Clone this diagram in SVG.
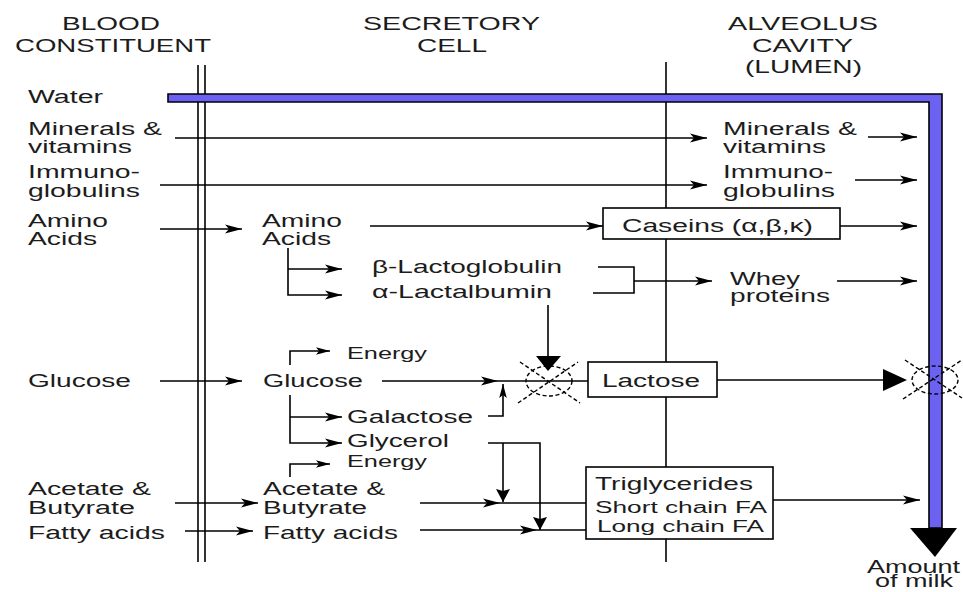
<svg xmlns="http://www.w3.org/2000/svg" width="963" height="592" viewBox="0 0 963 592">
<defs>
<marker id="a" markerUnits="userSpaceOnUse" markerWidth="18" markerHeight="11" refX="17" refY="5.5" orient="auto"><path d="M0,1 L17,5.5 L0,10 L4,5.5 z" fill="#000"/></marker>
<marker id="s" markerUnits="userSpaceOnUse" markerWidth="15" markerHeight="10" refX="14" refY="5" orient="auto"><path d="M0,1.2 L14,5 L0,8.8 L3,5 z" fill="#000"/></marker>
<marker id="b" markerUnits="userSpaceOnUse" markerWidth="14" markerHeight="16" refX="13" refY="8" orient="auto"><path d="M0,1 L13,8 L0,15 L2,8 z" fill="#000"/></marker>
</defs>
<style>
text{font-family:"Liberation Sans",Arial,sans-serif;font-size:18px;fill:#1c1c1c}
.sm{font-size:16px}
.ln{fill:none;stroke:#000;stroke-width:1.6}
.bx{fill:#fff;stroke:#000;stroke-width:1.6}
.dash{fill:none;stroke:#000;stroke-width:1.4;stroke-dasharray:4 2.5}
</style>
<g id="connectors">
<line class="ln" x1="198" y1="65" x2="198" y2="562"/>
<line class="ln" x1="205" y1="65" x2="205" y2="562"/>
<line class="ln" x1="666" y1="62" x2="666" y2="562"/>
<polygon points="168,94 942,94 942,528 929,528 929,102 168,102" fill="#6b62f2" stroke="#000" stroke-width="1.6"/>
<polygon points="910,528 957,528 935,557" fill="#000"/>
<path class="ln" d="M175,138 H707" marker-end="url(#a)"/>
<path class="ln" d="M868,137 H917" marker-end="url(#a)"/>
<path class="ln" d="M160,185 H707" marker-end="url(#a)"/>
<path class="ln" d="M855,180 H917" marker-end="url(#a)"/>
<path class="ln" d="M160,229 H242" marker-end="url(#a)"/>
<path class="ln" d="M370,226 H603" marker-end="url(#a)"/>
<path class="ln" d="M840,226 H917" marker-end="url(#a)"/>
<path class="ln" d="M288,248 V295 H342" marker-end="url(#a)"/>
<path class="ln" d="M288,269 H342" marker-end="url(#a)"/>
<path class="ln" d="M598,267 H634 V293 H593"/>
<path class="ln" d="M634,281 H712" marker-end="url(#a)"/>
<path class="ln" d="M837,281 H917" marker-end="url(#a)"/>
<path class="ln" d="M548,305 V358"/>
<polygon points="536,356 561,356 548,371" fill="#000"/>
<path class="ln" d="M160,381 H242" marker-end="url(#a)"/>
<path class="ln" d="M382,381 H498" marker-end="url(#a)"/>
<path class="ln" d="M498,381 H588"/>
<path class="ln" d="M488,416 H503 V384" marker-end="url(#s)"/>
<path class="ln" d="M290,365 V351 H330" marker-end="url(#s)"/>
<path class="ln" d="M290,395 V443 H342" marker-end="url(#a)"/>
<path class="ln" d="M290,417 H342" marker-end="url(#a)"/>
<path class="ln" d="M290,477 V464 H330" marker-end="url(#s)"/>
<path class="ln" d="M175,503 H258" marker-end="url(#a)"/>
<path class="ln" d="M420,503 H500" marker-end="url(#a)"/>
<path class="ln" d="M500,503 H586"/>
<path class="ln" d="M185,531 H253" marker-end="url(#a)"/>
<path class="ln" d="M420,530 H537" marker-end="url(#a)"/>
<path class="ln" d="M537,530 H586"/>
<path class="ln" d="M488,443 H540 V530" marker-end="url(#b)"/>
<path class="ln" d="M503,443 V502" marker-end="url(#b)"/>
<path class="ln" d="M717,380 H884"/>
<polygon points="883,369 907,380 883,391" fill="#000"/>
<path class="ln" d="M773,500 H920" marker-end="url(#a)"/>
</g>
<g id="enzyme1">
<ellipse class="dash" cx="549" cy="381" rx="23" ry="15"/>
<line class="dash" x1="520" y1="362" x2="580" y2="403"/>
<line class="dash" x1="518" y1="403" x2="578" y2="362"/>
</g>
<g id="enzyme2">
<ellipse class="dash" cx="935" cy="380" rx="23" ry="14"/>
<line class="dash" x1="905" y1="360" x2="962" y2="398"/>
<line class="dash" x1="903" y1="399" x2="962" y2="360"/>
</g>
<g id="headers">
<text x="62" y="30" textLength="98" lengthAdjust="spacingAndGlyphs">BLOOD</text>
<text x="15" y="52" textLength="196" lengthAdjust="spacingAndGlyphs">CONSTITUENT</text>
<text x="363" y="30" textLength="177" lengthAdjust="spacingAndGlyphs">SECRETORY</text>
<text x="417" y="52" textLength="70" lengthAdjust="spacingAndGlyphs">CELL</text>
<text x="728" y="30" textLength="150" lengthAdjust="spacingAndGlyphs">ALVEOLUS</text>
<text x="752" y="52" textLength="101" lengthAdjust="spacingAndGlyphs">CAVITY</text>
<text x="745" y="73" textLength="117" lengthAdjust="spacingAndGlyphs">(LUMEN)</text>
</g>
<g id="blood">
<text x="28" y="103" textLength="75" lengthAdjust="spacingAndGlyphs">Water</text>
<text x="28" y="135" textLength="134" lengthAdjust="spacingAndGlyphs">Minerals &amp;</text>
<text x="28" y="153" textLength="104" lengthAdjust="spacingAndGlyphs">vitamins</text>
<text x="28" y="178" textLength="112" lengthAdjust="spacingAndGlyphs">Immuno-</text>
<text x="28" y="197" textLength="112" lengthAdjust="spacingAndGlyphs">globulins</text>
<text x="28" y="227" textLength="80" lengthAdjust="spacingAndGlyphs">Amino</text>
<text x="28" y="245" textLength="69" lengthAdjust="spacingAndGlyphs">Acids</text>
<text x="28" y="387" textLength="103" lengthAdjust="spacingAndGlyphs">Glucose</text>
<text x="28" y="495" textLength="123" lengthAdjust="spacingAndGlyphs">Acetate &amp;</text>
<text x="28" y="514" textLength="107" lengthAdjust="spacingAndGlyphs">Butyrate</text>
<text x="28" y="539" textLength="137" lengthAdjust="spacingAndGlyphs">Fatty acids</text>
</g>
<g id="cell">
<text x="262" y="227" textLength="80" lengthAdjust="spacingAndGlyphs">Amino</text>
<text x="262" y="245" textLength="69" lengthAdjust="spacingAndGlyphs">Acids</text>
<text x="372" y="273" textLength="190" lengthAdjust="spacingAndGlyphs">β-Lactoglobulin</text>
<text x="372" y="298" textLength="180" lengthAdjust="spacingAndGlyphs">α-Lactalbumin</text>
<text class="sm" x="347" y="359" textLength="80" lengthAdjust="spacingAndGlyphs">Energy</text>
<text x="263" y="387" textLength="100" lengthAdjust="spacingAndGlyphs">Glucose</text>
<text x="347" y="423" textLength="126" lengthAdjust="spacingAndGlyphs">Galactose</text>
<text x="347" y="447" textLength="102" lengthAdjust="spacingAndGlyphs">Glycerol</text>
<text class="sm" x="347" y="467" textLength="80" lengthAdjust="spacingAndGlyphs">Energy</text>
<text x="263" y="495" textLength="122" lengthAdjust="spacingAndGlyphs">Acetate &amp;</text>
<text x="263" y="514" textLength="104" lengthAdjust="spacingAndGlyphs">Butyrate</text>
<text x="263" y="539" textLength="135" lengthAdjust="spacingAndGlyphs">Fatty acids</text>
</g>
<g id="caseins">
<rect class="bx" x="603" y="208" width="237" height="31"/>
<text x="622" y="232" textLength="191" lengthAdjust="spacingAndGlyphs">Caseins (α,β,κ)</text>
</g>
<g id="lactose">
<rect class="bx" x="588" y="362" width="129" height="35"/>
<text x="602" y="387" textLength="98" lengthAdjust="spacingAndGlyphs">Lactose</text>
</g>
<g id="triglycerides">
<rect class="bx" x="586" y="467" width="187" height="72"/>
<text x="595" y="490" textLength="158" lengthAdjust="spacingAndGlyphs">Triglycerides</text>
<text class="sm" x="595" y="513" textLength="172" lengthAdjust="spacingAndGlyphs">Short chain FA</text>
<text class="sm" x="597" y="532" textLength="167" lengthAdjust="spacingAndGlyphs">Long chain FA</text>
</g>
<g id="lumen">
<text x="723" y="135" textLength="134" lengthAdjust="spacingAndGlyphs">Minerals &amp;</text>
<text x="723" y="153" textLength="103" lengthAdjust="spacingAndGlyphs">vitamins</text>
<text x="723" y="178" textLength="110" lengthAdjust="spacingAndGlyphs">Immuno-</text>
<text x="723" y="197" textLength="112" lengthAdjust="spacingAndGlyphs">globulins</text>
<text x="730" y="285" textLength="70" lengthAdjust="spacingAndGlyphs">Whey</text>
<text x="730" y="302" textLength="100" lengthAdjust="spacingAndGlyphs">proteins</text>
</g>
<g id="milk">
<text x="867" y="573" textLength="93" lengthAdjust="spacingAndGlyphs">Amount</text>
<text x="875" y="587" textLength="78" lengthAdjust="spacingAndGlyphs">of milk</text>
</g>
</svg>
